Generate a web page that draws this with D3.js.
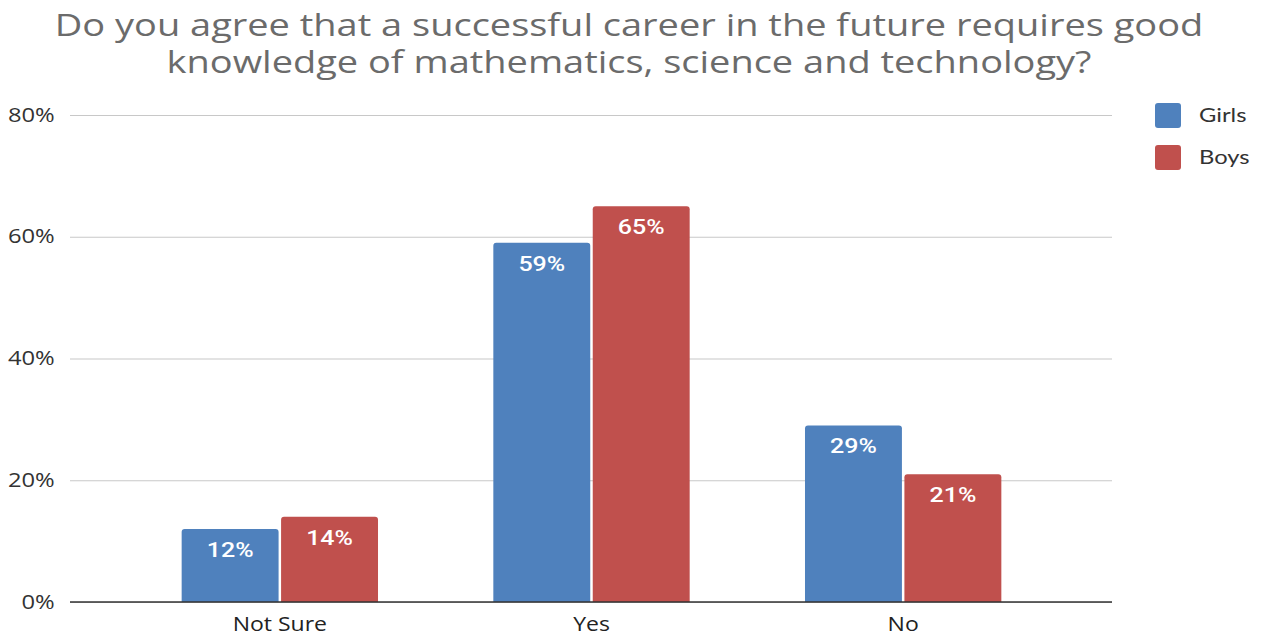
<!DOCTYPE html>
<html>
<head>
<meta charset="utf-8">
<script src="https://cdn.jsdelivr.net/npm/d3@7"></script>
<style>
  body { margin: 0; background: #fff; }
  svg { display: block; }
</style>
</head>
<body>
<svg id="chart" width="1264" height="637"></svg>
<script>
// Survey answers by gender (percent of respondents)
const categories = ["Not Sure", "Yes", "No"];
const seriesNames = ["Girls", "Boys"];
const girls = [12, 59, 29];
const boys = [14, 65, 21];
const yTicks = [0, 20, 40, 60, 80];
const titleLines = [
  "Do you agree that a successful career in the future requires good",
  "knowledge of mathematics, science and technology?"
];

const colors = { Girls: "#4f81bd", Boys: "#c0504d" };
const stretch = 1.22; // text is drawn slightly wide
const svg = d3.select("#chart");

const plotLeft = 70, plotRight = 1112, plotTop = 115, plotBottom = 602;

const y = d3.scaleLinear().domain([0, 80]).range([plotBottom, plotTop]);
const x = d3.scaleBand().domain(categories).range([124, 1059]).paddingInner(0.37).paddingOuter(0.185);
const xs = d3.scaleBand().domain(seriesNames).range([0, x.bandwidth()]).paddingInner(0.025);

// Title
svg.append("g").selectAll("text").data(titleLines).join("text")
  .attr("transform", (d, i) => `translate(629,${35.5 + i * 37}) scale(1.225,1)`)
  .attr("text-anchor", "middle")
  .attr("font-family", "Open Sans, sans-serif")
  .attr("font-size", 31)
  .attr("fill", "#6b6b6b")
  .text(d => d);

// Gridlines and y-axis labels
const yAxis = d3.axisLeft(y).tickValues(yTicks).tickSize(-(plotRight - plotLeft)).tickFormat(d => d + "%").tickPadding(12.5);
const gy = svg.append("g").attr("transform", `translate(${plotLeft},0)`).call(yAxis);
gy.select(".domain").remove();
gy.selectAll(".tick line").attr("stroke", "#c8c8c8").attr("stroke-width", 1.2);
gy.selectAll(".tick text")
  .attr("transform", `scale(${stretch},1)`)
  .attr("font-family", "Open Sans, sans-serif").attr("font-size", 19.5).attr("fill", "#333");

// Bars
const rows = categories.map((c, i) => ({ cat: c, values: [
  { name: "Girls", v: girls[i] }, { name: "Boys", v: boys[i] }
]}));

const groups = svg.append("g").selectAll("g").data(rows).join("g")
  .attr("transform", d => `translate(${x(d.cat)},0)`);

groups.selectAll("path").data(d => d.values).join("path")
  .attr("fill", d => colors[d.name])
  .attr("d", d => {
    const x0 = xs(d.name), w = xs.bandwidth(), top = y(d.v), bot = y(0), r = 3;
    return `M${x0},${bot}V${top + r}Q${x0},${top} ${x0 + r},${top}H${x0 + w - r}Q${x0 + w},${top} ${x0 + w},${top + r}V${bot}Z`;
  });

groups.selectAll("text").data(d => d.values).join("text")
  .attr("transform", d => `translate(${xs(d.name) + xs.bandwidth() / 2},${y(d.v) + 28}) scale(1.25,1)`)
  .attr("text-anchor", "middle")
  .attr("font-family", "Roboto, sans-serif")
  .attr("font-weight", 500)
  .attr("font-size", 20)
  .attr("fill", "#fff")
  .text(d => d.v + "%");

// Baseline
svg.append("line")
  .attr("x1", plotLeft).attr("x2", plotRight)
  .attr("y1", y(0)).attr("y2", y(0))
  .attr("stroke", "#333").attr("stroke-width", 1.5);

// Category labels
const xAxis = d3.axisBottom(x).tickSize(0).tickPadding(15);
const gx = svg.append("g").attr("transform", `translate(0,${y(0)})`).call(xAxis);
gx.select(".domain").remove();
gx.selectAll(".tick text")
  .attr("transform", "scale(1.18,1)")
  .attr("font-family", "Open Sans, sans-serif").attr("font-size", 19.5).attr("fill", "#222");

// Legend
const legend = svg.append("g").selectAll("g").data(seriesNames).join("g")
  .attr("transform", (d, i) => `translate(1155,${103 + i * 42})`);
legend.append("rect").attr("width", 26).attr("height", 25).attr("rx", 3)
  .attr("fill", d => colors[d]);
legend.append("text")
  .attr("transform", "translate(44,19) scale(1.25,1)")
  .attr("font-family", "Lato, sans-serif").attr("font-size", 19).attr("fill", "#333")
  .text(d => d);
</script>
</body>
</html>
